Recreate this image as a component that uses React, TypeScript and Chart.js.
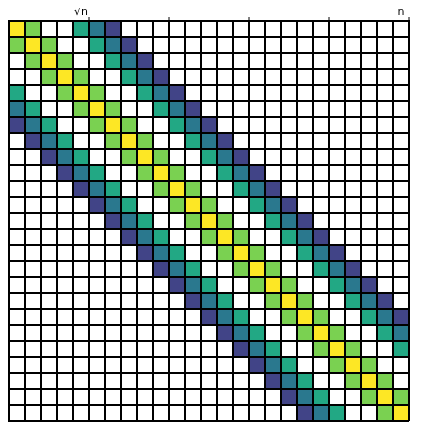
import React, { useEffect, useRef } from "react";
import { Chart, registerables } from "chart.js";

Chart.register(...registerables);

// Matrix size (n x n)
const matrixSize = 25;
// Diagonal offsets |i - j| that are non-zero, and their colours
const bandOffsets = [0, 1, 4, 5, 6];
const bandColors = ["#FDE725", "#7AD151", "#22A884", "#2A788E", "#414487"];
// Top axis labels and their positions (column centres)
const topLabels = ["√n", "n"];
const topLabelPositions = [4.5, 24.5];
// Major tick marks on top axis
const majorTicks = [5, 10, 15, 20, 25];

const cellPlugin = {
  id: "cells",
  beforeDraw(chart: any) {
    const { ctx } = chart;
    const xs = chart.scales.x;
    const ys = chart.scales.y;
    ctx.save();
    for (let i = 0; i < matrixSize; i++) {
      for (let j = 0; j < matrixSize; j++) {
        const k = bandOffsets.indexOf(Math.abs(i - j));
        if (k < 0) continue;
        const x0 = xs.getPixelForValue(j);
        const x1 = xs.getPixelForValue(j + 1);
        const y0 = ys.getPixelForValue(i);
        const y1 = ys.getPixelForValue(i + 1);
        ctx.fillStyle = bandColors[k];
        ctx.fillRect(x0, y0, x1 - x0, y1 - y0);
      }
    }
    ctx.restore();
  },
  afterDraw(chart: any) {
    const { ctx } = chart;
    const xs = chart.scales.x;
    ctx.save();
    ctx.fillStyle = "#000";
    ctx.font = "11px 'DejaVu Sans'";
    ctx.textAlign = "center";
    ctx.textBaseline = "alphabetic";
    topLabels.forEach((lab, i) => {
      ctx.fillText(lab, xs.getPixelForValue(topLabelPositions[i]), xs.bottom - 6);
    });
    ctx.restore();
  },
};

export default function App() {
  const ref = useRef<HTMLCanvasElement | null>(null);
  useEffect(() => {
    if (!ref.current) return;
    const chart = new Chart(ref.current, {
      type: "scatter",
      data: { datasets: [{ data: [] }] },
      plugins: [cellPlugin],
      options: {
        animation: false,
        responsive: true,
        maintainAspectRatio: false,
        layout: { padding: { left: 9, right: 14, top: 0, bottom: 11 } },
        plugins: { legend: { display: false }, tooltip: { enabled: false } },
        scales: {
          x: {
            type: "linear",
            position: "top",
            min: 0,
            max: matrixSize,
            afterBuildTicks: (scale: any) => {
              const t: any[] = [];
              for (let v = 0; v <= matrixSize; v++) t.push({ value: v });
              scale.ticks = t;
            },
            afterFit: (scale: any) => {
              scale.height = 21;
            },
            ticks: { display: false },
            grid: {
              color: "#000",
              lineWidth: 2,
              drawTicks: true,
              tickLength: 4,
              tickColor: (c: any) =>
                c.tick && majorTicks.includes(c.tick.value) ? "#000" : "rgba(0,0,0,0)",
              tickWidth: 1,
            },
            border: { display: true, color: "#000", width: 2 },
          },
          y: {
            type: "linear",
            min: 0,
            max: matrixSize,
            reverse: true,
            afterBuildTicks: (scale: any) => {
              const t: any[] = [];
              for (let v = 0; v <= matrixSize; v++) t.push({ value: v });
              scale.ticks = t;
            },
            afterFit: (scale: any) => {
              scale.width = 0;
            },
            ticks: { display: false },
            grid: { color: "#000", lineWidth: 2, drawTicks: false },
            border: { display: true, color: "#000", width: 2 },
          },
        },
      },
    });
    return () => chart.destroy();
  }, []);
  return (
    <div style={{ margin: "-8px 0 0 -8px", width: 423, height: 432, position: "relative" }}>
      <canvas ref={ref} />
    </div>
  );
}
